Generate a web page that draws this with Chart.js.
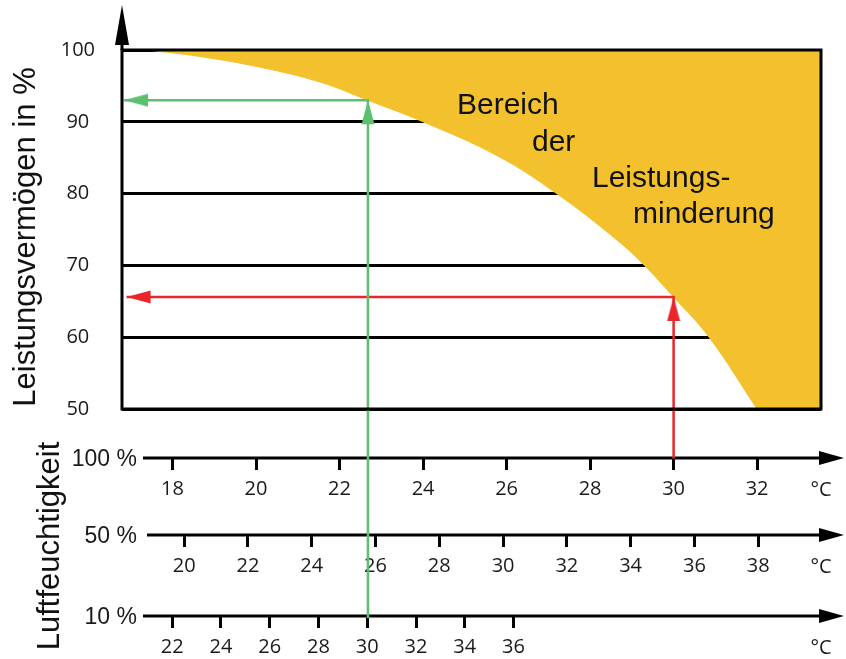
<!DOCTYPE html>
<html>
<head>
<meta charset="utf-8">
<script src="https://cdn.jsdelivr.net/npm/chart.js@4.4.0/dist/chart.umd.min.js"></script>
<style>
  html, body { margin: 0; padding: 0; background: #fff; }
</style>
</head>
<body>
<canvas id="myChart" width="846" height="659"></canvas>
<script>
// Grenzkurve: Temperatur bei 100 % Luftfeuchtigkeit (°C) -> Leistungsvermögen (%)
const kurveTemp = [17.4, 18.65, 20.1, 21.55, 22.68, 24.0, 25.8, 27.2, 28.65, 29.3, 30.0, 30.85, 32.0];
const kurveLeistung = [100, 99.1, 97.6, 95.5, 93.0, 90.0, 85.2, 80.0, 73.5, 70.0, 65.6, 60.0, 50.0];
// waagerechter Rest bei 50 % bis zum Rand
const restTemp = [31.97, 33.53];
const restLeistung = [50.0, 50.0];

// Ablesebeispiele (grün und rot)
const gruenTemp = [16.84, 22.68, 22.68];
const gruenLeistung = [93.0, 93.0, 20.9];
const rotTemp = [16.9, 30.0, 30.0];
const rotLeistung = [65.6, 65.6, 43.1];

// Achsen
const leistungTicks = [50, 60, 70, 80, 90, 100];
const ticks100 = [18, 20, 22, 24, 26, 28, 30, 32];
const ticks50 = [20, 22, 24, 26, 28, 30, 32, 34, 36, 38];
const ticks10 = [22, 24, 26, 28, 30, 32, 34, 36];
const bereich100 = [16.79, 33.53];
const bereich50 = [18.05, 39.97];
const bereich10 = [19.94, 48.61];

const tickFont = { family: "Open Sans", size: 20 };
const textFarbe = "#1a1a1a";
const orange = "#f3c12d";

// Pfeilspitze: Spitze genau in der Bildmitte, damit sie auf dem Datenpunkt sitzt
function pfeil(farbe) {
  const c = document.createElement("canvas");
  c.width = 14;
  c.height = 50;
  const g = c.getContext("2d");
  g.fillStyle = farbe;
  g.beginPath();
  g.moveTo(7, 25);
  g.lineTo(13.5, 49);
  g.lineTo(0.5, 49);
  g.closePath();
  g.fill();
  return c;
}

const gruen = "#5cc06e";
const rot = "#e8262c";
const pfeilGruen = pfeil(gruen);
const pfeilRot = pfeil(rot);

function xAchse(weight, bereich, ticks, hoehe) {
  return {
    type: "linear",
    axis: "x",
    position: "bottom",
    weight: weight,
    min: bereich[0],
    max: bereich[1],
    afterBuildTicks: (s) => {
      s.ticks = ticks.map((v) => ({ value: v }));
    },
    afterFit: (s) => {
      s.height = hoehe;
    },
    grid: { drawOnChartArea: false, color: "#000", tickLength: 12, tickWidth: 3 },
    border: { display: false },
    ticks: { font: tickFont, color: textFarbe, padding: 7, maxRotation: 0, autoSkip: false },
  };
}

const dekor = {
  id: "dekor",
  beforeDatasetsDraw(chart) {
    const { ctx, scales } = chart;
    ctx.save();
    ctx.strokeStyle = "#000";
    ctx.fillStyle = "#000";
    ctx.lineWidth = 3;
    const achsen = [
      ["x100", "100 %", 143],
      ["x50", "50 %", 147],
      ["x10", "10 %", 143],
    ];
    for (const [id, text, start] of achsen) {
      const y = scales[id].top;
      ctx.beginPath();
      ctx.moveTo(start, y);
      ctx.lineTo(825, y);
      ctx.stroke();
      ctx.beginPath();
      ctx.moveTo(844, y);
      ctx.lineTo(819, y - 7);
      ctx.lineTo(819, y + 7);
      ctx.closePath();
      ctx.fill();
      ctx.fillStyle = textFarbe;
      ctx.font = "23px 'Liberation Sans'";
      ctx.textAlign = "right";
      ctx.textBaseline = "middle";
      ctx.fillText(text, 137, y + 2);
      ctx.font = "20px 'Open Sans'";
      ctx.textAlign = "center";
      ctx.fillText("°C", 821, y + 32);
      ctx.fillStyle = "#000";
    }
    ctx.restore();
  },
  afterDatasetsDraw(chart) {
    const { ctx, chartArea: a } = chart;
    ctx.save();
    ctx.strokeStyle = "#000";
    ctx.fillStyle = "#000";
    ctx.lineWidth = 3;
    ctx.strokeRect(a.left, a.top, a.right - a.left, a.bottom - a.top);
    ctx.beginPath();
    ctx.moveTo(a.left, a.top);
    ctx.lineTo(a.left, 30);
    ctx.stroke();
    ctx.beginPath();
    ctx.moveTo(a.left, 5);
    ctx.lineTo(a.left + 7, 45);
    ctx.lineTo(a.left - 7, 45);
    ctx.closePath();
    ctx.fill();

    ctx.fillStyle = "#111";
    ctx.textAlign = "left";
    ctx.textBaseline = "alphabetic";
    ctx.font = "30px 'Liberation Sans'";
    ctx.fillText("Bereich", 457, 114);
    ctx.fillText("der", 532, 151);
    ctx.fillText("Leistungs-", 592, 187);
    ctx.fillText("minderung", 633, 223);

    ctx.font = "31px 'Liberation Sans'";
    ctx.textAlign = "center";
    ctx.save();
    ctx.translate(35, 237);
    ctx.rotate(-Math.PI / 2);
    ctx.fillText("Leistungsvermögen in %", 0, 0);
    ctx.restore();
    ctx.save();
    ctx.translate(59, 546);
    ctx.rotate(-Math.PI / 2);
    ctx.fillText("Luftfeuchtigkeit", 0, 0);
    ctx.restore();
    ctx.restore();
  },
};

const ctx = document.getElementById("myChart").getContext("2d");
const grafik = new Chart(ctx, {
  type: "line",
  data: {
    datasets: [
      {
        label: "Bereich der Leistungsminderung",
        data: kurveTemp.map((t, i) => ({ x: t, y: kurveLeistung[i] })),
        xAxisID: "x100",
        yAxisID: "y",
        fill: "end",
        backgroundColor: orange,
        borderColor: orange,
        borderWidth: 1,
        pointRadius: 0,
        tension: 0.4,
        order: 3,
      },
      {
        label: "Rest",
        data: restTemp.map((t, i) => ({ x: t, y: restLeistung[i] })),
        xAxisID: "x100",
        yAxisID: "y",
        fill: "end",
        backgroundColor: orange,
        borderColor: orange,
        borderWidth: 1,
        pointRadius: 0,
        order: 2,
      },
      {
        label: "Beispiel grün",
        data: gruenTemp.map((t, i) => ({ x: t, y: gruenLeistung[i] })),
        xAxisID: "x100",
        yAxisID: "y",
        borderColor: gruen,
        borderWidth: 2.5,
        fill: false,
        clip: false,
        pointStyle: [pfeilGruen, pfeilGruen, false],
        rotation: [-90, 0, 0],
        pointRadius: [8, 8, 0],
        pointBorderWidth: 0,
        order: 0,
      },
      {
        label: "Beispiel rot",
        data: rotTemp.map((t, i) => ({ x: t, y: rotLeistung[i] })),
        xAxisID: "x100",
        yAxisID: "y",
        borderColor: rot,
        borderWidth: 2.5,
        fill: false,
        clip: false,
        pointStyle: [pfeilRot, pfeilRot, false],
        rotation: [-90, 0, 0],
        pointRadius: [8, 8, 0],
        pointBorderWidth: 0,
        order: 1,
      },
    ],
  },
  options: {
    responsive: false,
    animation: false,
    events: [],
    layout: { padding: { top: 50, right: 25, left: 0, bottom: 0 } },
    plugins: {
      legend: { display: false },
      tooltip: { enabled: false },
    },
    scales: {
      y: {
        type: "linear",
        position: "left",
        min: 50,
        max: 100,
        afterBuildTicks: (s) => {
          s.ticks = leistungTicks.map((v) => ({ value: v }));
        },
        afterFit: (s) => {
          s.width = 122;
        },
        grid: { color: "#000", lineWidth: 3, drawTicks: false },
        border: { display: false },
        ticks: { font: tickFont, color: textFarbe, padding: 27, crossAlign: "center" },
      },
      xgap: {
        type: "linear",
        axis: "x",
        position: "bottom",
        weight: 0,
        min: 0,
        max: 1,
        ticks: { display: false },
        grid: { display: false },
        border: { display: false },
        afterFit: (s) => {
          s.height = 49;
        },
      },
      x100: xAchse(1, bereich100, ticks100, 77),
      x50: xAchse(2, bereich50, ticks50, 81),
      x10: xAchse(3, bereich10, ticks10, 43),
    },
  },
  plugins: [dekor],
});
</script>
</body>
</html>
